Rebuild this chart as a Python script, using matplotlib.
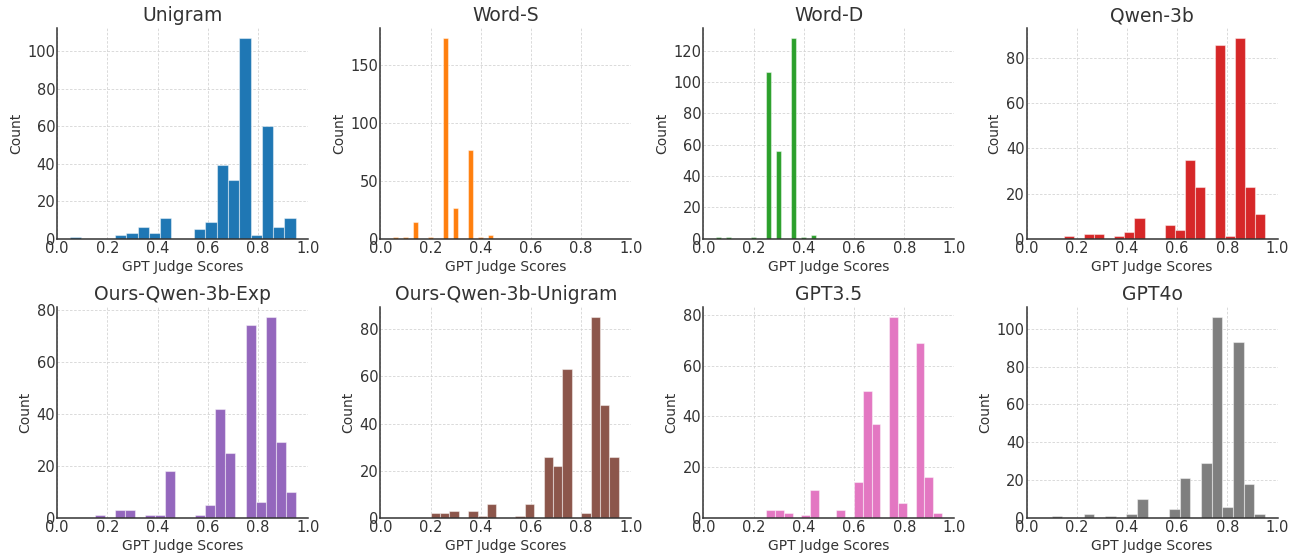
import numpy as np
import matplotlib
matplotlib.use("Agg")
import matplotlib.pyplot as plt

titles = ["Unigram", "Word-S", "Word-D", "Qwen-3b",
          "Ours-Qwen-3b-Exp", "Ours-Qwen-3b-Unigram", "GPT3.5", "GPT4o"]
colors = ["#1f77b4", "#ff7f0e", "#2ca02c", "#d62728",
          "#9467bd", "#8c564b", "#e377c2", "#7f7f7f"]

# score range (min, max) of each histogram, 20 equal bins each
ranges = [(0.05, 0.95), (0.05, 0.45), (0.05, 0.45), (0.15, 0.95),
          (0.15, 0.95), (0.20, 0.95), (0.25, 0.95), (0.10, 0.95)]

unigram = [1, 0, 0, 0, 2, 3, 6, 3, 11, 0, 0, 5, 9, 39, 31, 107, 2, 60, 6, 11]
word_s = [1, 0, 1, 0, 14, 0, 0, 1, 0, 0, 173, 0, 26, 0, 0, 76, 0, 1, 0, 3]
word_d = [1, 0, 1, 0, 0, 0, 0, 1, 0, 0, 106, 0, 56, 0, 0, 128, 0, 1, 0, 2]
qwen_3b = [1, 0, 2, 2, 0, 1, 3, 9, 0, 0, 6, 4, 35, 23, 0, 86, 1, 89, 23, 11]
ours_exp = [1, 0, 3, 3, 0, 1, 1, 18, 0, 0, 1, 5, 42, 25, 0, 74, 6, 77, 29, 10]
ours_unigram = [2, 2, 3, 0, 3, 1, 6, 0, 0, 1, 6, 0, 26, 22, 63, 0, 2, 85, 48, 26]
gpt35 = [3, 3, 2, 0, 1, 11, 0, 0, 3, 0, 14, 50, 37, 0, 79, 6, 0, 69, 16, 2]
gpt4o = [1, 0, 0, 2, 0, 1, 0, 2, 10, 0, 0, 5, 21, 0, 29, 106, 6, 93, 18, 2]

series = [unigram, word_s, word_d, qwen_3b, ours_exp, ours_unigram, gpt35, gpt4o]
xticks = [0.0, 0.2, 0.4, 0.6, 0.8, 1.0]
yticks = [[0, 20, 40, 60, 80, 100], [0, 50, 100, 150],
          [0, 20, 40, 60, 80, 100, 120], [0, 20, 40, 60, 80],
          [0, 20, 40, 60, 80], [0, 20, 40, 60, 80],
          [0, 20, 40, 60, 80], [0, 20, 40, 60, 80, 100]]

fig, axes = plt.subplots(2, 4, figsize=(13.01, 5.6), dpi=100)
fig.subplots_adjust(left=0.044, right=0.982, top=0.95, bottom=0.075,
                    wspace=0.287, hspace=0.327)
for ax, title, color, (lo, hi), counts, yt in zip(axes.flat, titles, colors,
                                                  ranges, series, yticks):
    edges = np.linspace(lo, hi, len(counts) + 1)
    centers = (edges[:-1] + edges[1:]) / 2
    ax.hist(centers, bins=edges, weights=counts, color=color,
            edgecolor=(1, 1, 1, 0.45), linewidth=0.8, zorder=2)
    ax.set_xlim(0, 1)
    ax.set_xticks(xticks)
    ax.set_yticks(yt)
    ax.set_ylim(0, max(counts) * 1.05)
    ax.set_title(title, fontsize=13.5, color="#333333", pad=5)
    ax.set_xlabel("GPT Judge Scores", fontsize=10, color="#333333", labelpad=3)
    ax.set_ylabel("Count", fontsize=10, color="#333333", labelpad=3)
    ax.grid(True, linestyle=(0, (3, 2)), color="#d4d4d4", linewidth=0.6, zorder=0)
    ax.set_axisbelow(True)
    for s in ["top", "right"]:
        ax.spines[s].set_visible(False)
    for s in ["left", "bottom"]:
        ax.spines[s].set_color("#333333")
        ax.spines[s].set_linewidth(1.1)
    ax.tick_params(length=0, labelsize=10.5, colors="#333333", pad=1.5)

fig.savefig("out.png", dpi=100)
